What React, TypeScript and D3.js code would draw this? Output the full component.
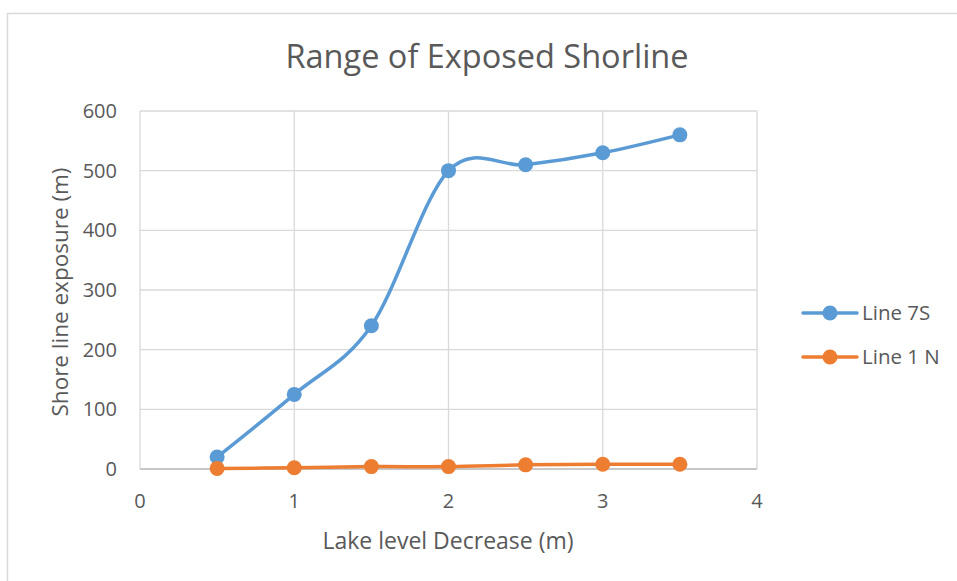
import React from "react";
import * as d3 from "d3";

const title = "Range of Exposed Shorline";
const xTitle = "Lake level Decrease (m)";
const yTitle = "Shore line exposure (m)";
const lakeDecrease = [0.5, 1, 1.5, 2, 2.5, 3, 3.5];
const line7S = [20, 125, 240, 500, 510, 530, 560];
const line1N = [1, 2, 4, 4, 7, 8, 8];
const xTicks = [0, 1, 2, 3, 4];
const yTicks = [0, 100, 200, 300, 400, 500, 600];
const seriesNames = ["Line 7S", "Line 1 N"];
const seriesColors = ["#5b9bd5", "#ed7d31"];

const W = 957;
const H = 581;
const font = "'Open Sans', 'Noto Sans', sans-serif";
const textColor = "#595959";

export default function App() {
  const x = d3.scaleLinear().domain([0, 4]).range([140, 757]);
  const y = d3.scaleLinear().domain([0, 600]).range([469, 111]);
  const series = [line7S, line1N];
  const lineGen = (vals: number[]) =>
    d3
      .line<number>()
      .x((_, i) => x(lakeDecrease[i]))
      .y((v) => y(v))
      .curve(d3.curveCatmullRom.alpha(0))(vals) || "";

  return (
    <svg
      width={W}
      height={H}
      style={{ position: "absolute", left: 0, top: 0, background: "#fff" }}
      fontFamily={font}
    >
      <rect x={7.5} y={13.5} width={960} height={600} fill="#fff" stroke="#d9d9d9" strokeWidth={1.5} />
      <text x={487} y={68} textAnchor="middle" fontSize={32.5} fill={textColor}>
        {title}
      </text>
      {/* grid */}
      {yTicks.map((t) => (
        <line key={"gy" + t} x1={x(0)} x2={x(4)} y1={y(t)} y2={y(t)} stroke="#d9d9d9" strokeWidth={1.3} />
      ))}
      {xTicks.map((t) => (
        <line key={"gx" + t} x1={x(t)} x2={x(t)} y1={y(0)} y2={y(600)} stroke="#d9d9d9" strokeWidth={1.3} />
      ))}
      <line x1={x(0)} x2={x(4)} y1={y(0)} y2={y(0)} stroke="#bfbfbf" strokeWidth={1.5} />
      {/* tick labels */}
      {yTicks.map((t) => (
        <text key={"ty" + t} x={117} y={y(t) + 7} textAnchor="end" fontSize={20} fill={textColor}>
          {t}
        </text>
      ))}
      {xTicks.map((t) => (
        <text key={"tx" + t} x={x(t)} y={508} textAnchor="middle" fontSize={20} fill={textColor}>
          {t}
        </text>
      ))}
      <text x={448} y={549} textAnchor="middle" fontSize={23} fill={textColor}>
        {xTitle}
      </text>
      <text
        transform={`translate(68, 292) rotate(-90)`}
        textAnchor="middle"
        fontSize={22.5}
        fill={textColor}
      >
        {yTitle}
      </text>
      {/* series */}
      {series.map((vals, si) => (
        <g key={"s" + si}>
          <path d={lineGen(vals)} fill="none" stroke={seriesColors[si]} strokeWidth={3.5} strokeLinecap="round" />
          {vals.map((v, i) => (
            <circle key={i} cx={x(lakeDecrease[i])} cy={y(v)} r={7.5} fill={seriesColors[si]} />
          ))}
        </g>
      ))}
      {/* legend */}
      {seriesNames.map((n, i) => (
        <g key={"l" + i} transform={`translate(0, ${313 + i * 44})`}>
          <line x1={803} x2={857} y1={0} y2={0} stroke={seriesColors[i]} strokeWidth={3.5} strokeLinecap="round" />
          <circle cx={830} cy={0} r={7.5} fill={seriesColors[i]} />
          <text x={862} y={7} fontSize={20.5} fill={textColor}>
            {n}
          </text>
        </g>
      ))}
    </svg>
  );
}
